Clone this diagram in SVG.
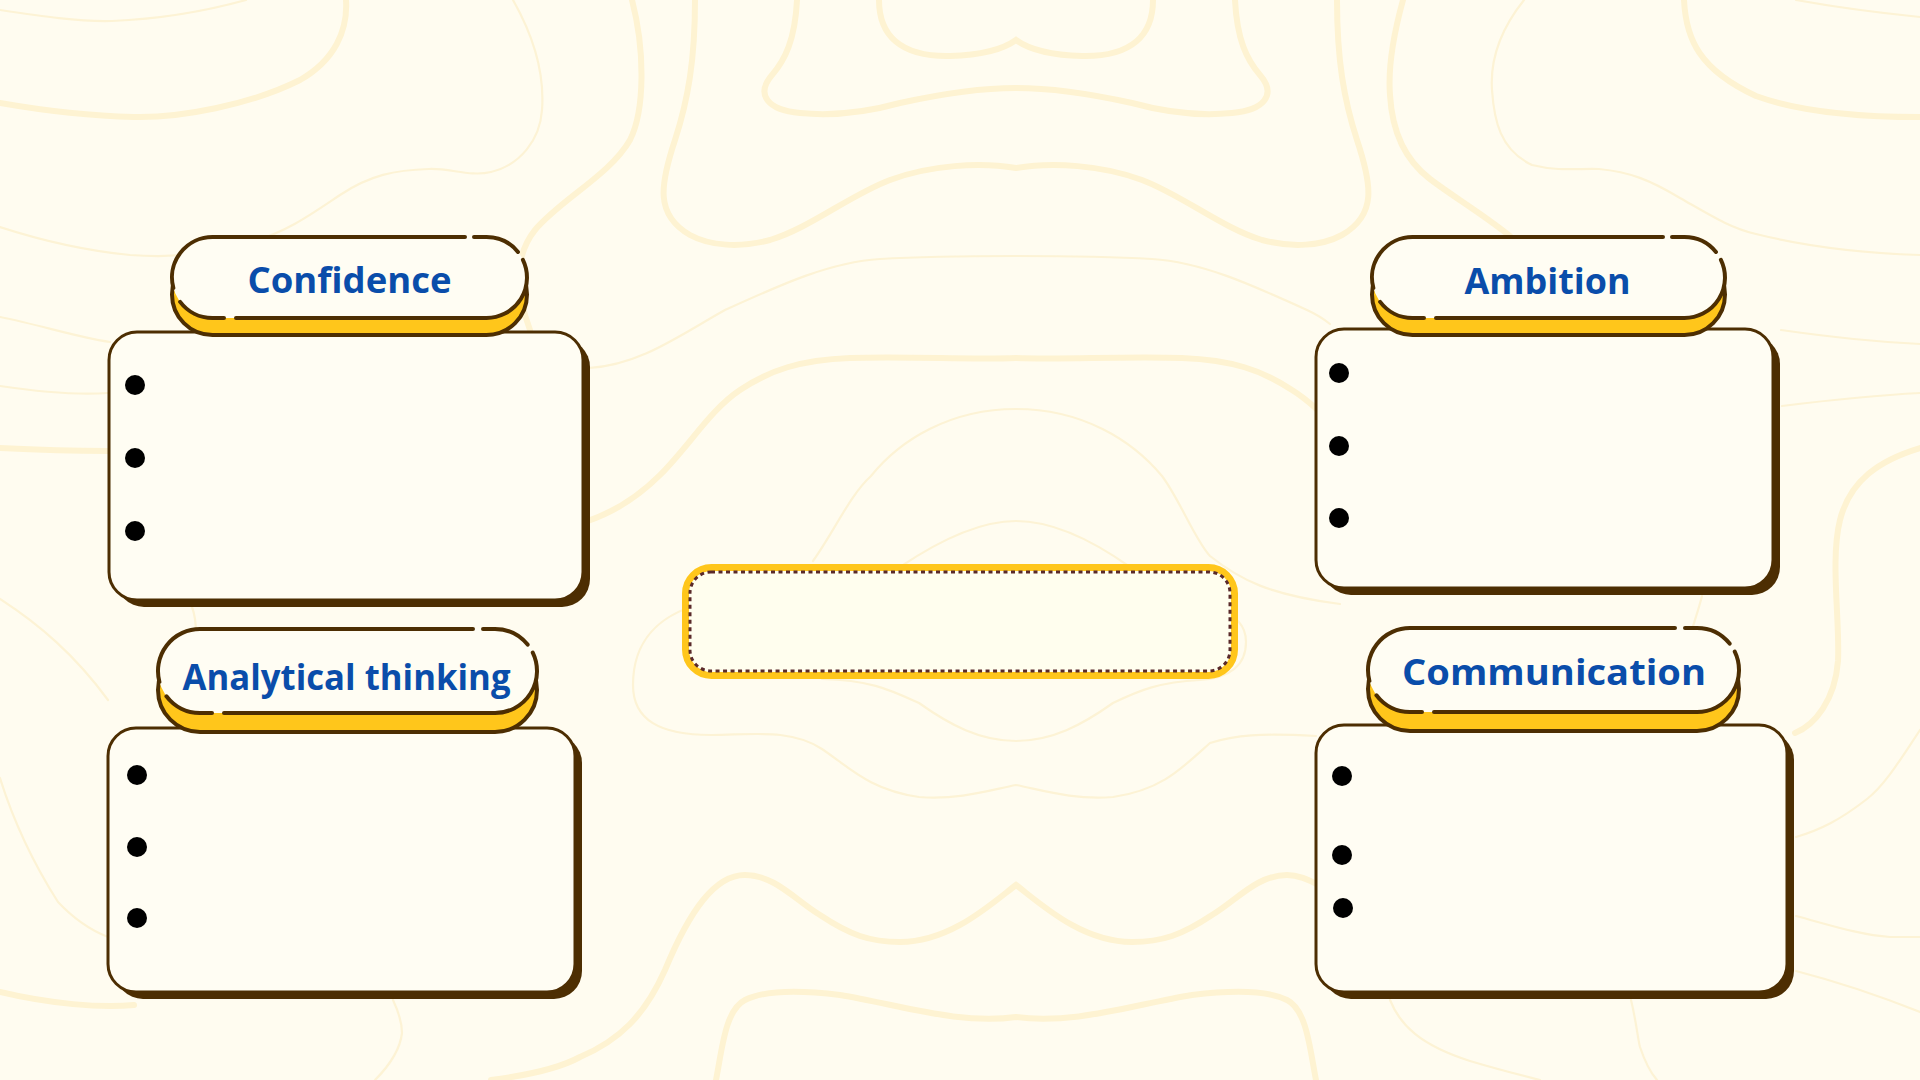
<svg xmlns="http://www.w3.org/2000/svg" width="1920" height="1080" viewBox="0 0 1920 1080">
<style>
.bgk{fill:none;stroke:#fef3d2;stroke-width:6;stroke-linecap:round}
.bgt{fill:none;stroke:#fdf3d5;stroke-width:2.2;stroke-linecap:round}
.shadow{fill:#4d2e02}
.box{fill:#fffdf3;stroke:#4d2e02;stroke-width:3}
.back{fill:#ffc61b;stroke:#4d2e02;stroke-width:4}
.front{fill:#fffdf3}
.edge{fill:none;stroke:#4d2e02;stroke-width:4;stroke-linecap:round}
.title{font-family:"Open Sans","Noto Sans",sans-serif;font-weight:700;font-size:36px;fill:#0a4daa;text-anchor:middle}
.dot{fill:#000}
</style>
<rect x="0" y="0" width="1920" height="1080" fill="#fffcf0"/>
<g id="background">
<path class="bgk" d="M879,0 C879,35 900,57 950,56 C985,55 1005,48 1016,40 C1027,48 1047,55 1082,56 C1132,57 1153,35 1153,0"/>
<path class="bgk" d="M797,0 C795,40 785,60 772,75 C755,95 768,110 800,113 C830,116 860,114 900,103 C950,92 990,88 1016,88 C1042,88 1082,92 1132,103 C1172,114 1202,116 1232,113 C1264,110 1277,95 1260,75 C1247,60 1237,40 1235,0"/>
<path class="bgk" d="M695,0 C695,60 688,100 675,140 C660,185 655,215 690,235 C710,246 740,248 770,240 C810,228 850,195 890,180 C930,165 980,162 1016,168 C1052,162 1102,165 1142,180 C1182,195 1222,228 1262,240 C1292,248 1322,246 1342,235 C1377,215 1372,185 1357,140 C1344,100 1337,60 1337,0"/>
<path class="bgk" d="M346,0 C348,30 335,60 300,80 C250,105 180,118 134,117 C90,116 40,110 0,103"/>
<path class="bgk" d="M1684,0 C1686,40 1700,70 1756,96 C1800,112 1860,117 1920,117"/>
<path class="bgk" d="M632,0 C645,50 645,110 630,140 C610,175 560,200 535,230 C515,255 515,290 530,330"/>
<path class="bgk" d="M1403,0 C1392,40 1388,70 1390,95 C1392,130 1405,160 1430,179 C1455,198 1480,212 1510,236"/>
<path class="bgk" d="M585,522 C615,512 640,495 660,475 C690,445 710,410 740,390 C770,370 800,360 850,358 C910,356 970,360 1016,358 C1062,360 1122,356 1182,358 C1232,360 1262,370 1292,390 C1305,398 1312,405 1320,412"/>
<path class="bgk" d="M491,1080 C530,1075 560,1068 580,1057 C620,1040 645,1015 665,970 C690,910 715,875 745,875 C775,875 795,900 820,915 C850,935 870,942 900,942 C950,942 990,905 1016,885 C1042,905 1082,942 1132,942 C1162,942 1182,935 1212,915 C1237,900 1257,875 1287,875 C1300,875 1310,880 1320,886"/>
<path class="bgk" d="M716,1080 C722,1050 725,1010 745,1000 C765,990 800,990 840,995 C900,1005 960,1025 1016,1017 C1072,1025 1132,1005 1192,995 C1232,990 1267,990 1287,1000 C1307,1010 1310,1050 1316,1080"/>
<path class="bgk" d="M1920,448 C1880,460 1850,480 1840,520 C1830,560 1840,620 1838,661 C1835,700 1815,725 1795,733"/>
<path class="bgk" d="M0,448 C40,450 70,451 108,451"/>
<path class="bgk" d="M0,992 C50,1004 100,1008 134,1005"/>
<path class="bgt" d="M0,10 C40,16 80,22 112,21 C160,19 210,10 246,0"/>
<path class="bgt" d="M1796,0 C1840,8 1880,13 1920,17"/>
<path class="bgt" d="M513,0 C530,30 545,70 542,110 C540,140 520,165 491,172 C470,177 450,168 429,169 C395,170 370,175 340,195 C310,215 290,230 250,243 C210,255 170,258 130,255 C80,250 40,240 0,227"/>
<path class="bgt" d="M1524,0 C1500,30 1490,60 1492,90 C1494,120 1500,150 1532,165 C1560,172 1580,168 1599,169 C1630,172 1650,180 1680,198 C1710,215 1730,228 1756,234 C1800,245 1860,253 1920,255"/>
<path class="bgt" d="M0,317 C40,325 80,338 110,342"/>
<path class="bgt" d="M589,368 C640,365 680,335 725,310 C780,285 830,262 880,259 C930,256 980,256 1016,256 C1052,256 1102,256 1152,259 C1202,262 1252,285 1307,310 C1320,316 1325,320 1330,324"/>
<path class="bgt" d="M1781,330 C1830,337 1880,342 1920,344"/>
<path class="bgt" d="M0,386 C40,392 80,395 108,393"/>
<path class="bgt" d="M1782,406 C1830,400 1880,395 1920,393"/>
<path class="bgt" d="M813,561 C835,530 850,495 871,476 C900,440 950,409 1016,409 C1082,409 1132,440 1162,476 C1180,500 1195,540 1210,556 C1240,580 1270,595 1340,604"/>
<path class="bgt" d="M700,604 C660,615 633,640 633,685 C633,720 660,735 711,735 C750,735 790,728 822,749 C850,768 870,790 919,797 C960,800 990,790 1016,785 C1042,790 1072,800 1113,797 C1162,790 1182,768 1210,743 C1235,735 1260,733 1316,736"/>
<path class="bgt" d="M900,567 C940,540 980,521 1016,521 C1052,521 1092,540 1130,567"/>
<path class="bgt" d="M822,679 C870,680 890,690 919,703 C950,725 980,741 1016,741 C1052,741 1082,725 1113,703 C1140,690 1160,682 1200,680 C1230,678 1246,665 1246,642 C1246,625 1235,615 1220,612"/>
<path class="bgt" d="M0,599 C40,625 75,655 108,700"/>
<path class="bgt" d="M192,607 C195,615 196,625 196,634"/>
<path class="bgt" d="M0,778 C10,810 25,850 58,902 C75,920 90,930 108,937"/>
<path class="bgt" d="M393,1000 C400,1015 402,1025 402,1033 C400,1050 390,1065 375,1080"/>
<path class="bgt" d="M1702,596 C1698,612 1692,628 1689,640"/>
<path class="bgt" d="M1920,730 C1900,760 1885,785 1867,799 C1840,820 1820,830 1796,837"/>
<path class="bgt" d="M1796,916 C1830,925 1860,935 1890,937 L1920,937"/>
<path class="bgt" d="M1796,971 C1850,985 1890,1000 1920,1012"/>
<path class="bgt" d="M1390,1000 C1400,1025 1420,1045 1470,1061 C1500,1070 1520,1075 1540,1080"/>
<path class="bgt" d="M1631,1000 C1636,1020 1638,1040 1640,1047 C1645,1062 1650,1072 1657,1080"/>
</g>
<g id="connectors"></g>
<g id="center-box">
<rect x="685.5" y="567.5" width="549" height="108" rx="26" fill="#fffeee" stroke="#ffc61b" stroke-width="7"/>
<rect x="690" y="572" width="540" height="99" rx="21" fill="none" stroke="#5a2a2a" stroke-width="3" stroke-dasharray="4 3.5"/>
</g>
<g id="node-confidence">
<rect class="shadow" x="116" y="339" width="474" height="268" rx="28"/>
<rect class="box" x="109" y="332" width="474" height="268" rx="28"/>
<circle class="dot" cx="135" cy="385" r="10"/>
<circle class="dot" cx="135" cy="458" r="10"/>
<circle class="dot" cx="135" cy="531" r="10"/>
<g transform="translate(172,237)">
<rect class="back" x="0" y="17" width="355" height="81" rx="40.5"/>
<rect class="front" x="0" y="0" width="355" height="81" rx="40.5"/>
<path class="edge" d="M1.38,50.98 A40.5,40.5 0 0 1 40.5,0 L293,0 M302,0 L314.5,0 A40.5,40.5 0 0 1 345.97,15 M350.91,22.8 A40.5,40.5 0 0 1 314.5,81 L64,81 M52,81 L40.5,81 A40.5,40.5 0 0 1 8.14,64.9"/>
<text class="title" x="177.5" y="56" textLength="204" lengthAdjust="spacingAndGlyphs">Confidence</text>
</g>
</g>
<g id="node-analytical">
<rect class="shadow" x="115" y="735" width="467" height="264" rx="28"/>
<rect class="box" x="108" y="728" width="467" height="264" rx="28"/>
<circle class="dot" cx="137" cy="775" r="10"/>
<circle class="dot" cx="137" cy="847" r="10"/>
<circle class="dot" cx="137" cy="918" r="10"/>
<g transform="translate(158,629)">
<rect class="back" x="0" y="19" width="379" height="84" rx="42"/>
<rect class="front" x="0" y="0" width="379" height="84" rx="42"/>
<path class="edge" d="M1.43,52.9 A42,42 0 0 1 42,0 L315,0 M325,0 L337,0 A42,42 0 0 1 369.63,15.6 M374.76,23.6 A42,42 0 0 1 337,84 L66,84 M54,84 L42,84 A42,42 0 0 1 8.44,67.3"/>
<text class="title" x="188.5" y="61" textLength="328" lengthAdjust="spacingAndGlyphs">Analytical thinking</text>
</g>
</g>
<g id="node-ambition">
<rect class="shadow" x="1323" y="336" width="457" height="259" rx="28"/>
<rect class="box" x="1316" y="329" width="457" height="259" rx="28"/>
<circle class="dot" cx="1339" cy="373" r="10"/>
<circle class="dot" cx="1339" cy="446" r="10"/>
<circle class="dot" cx="1339" cy="518" r="10"/>
<g transform="translate(1372,237)">
<rect class="back" x="0" y="17" width="353" height="81" rx="40.5"/>
<rect class="front" x="0" y="0" width="353" height="81" rx="40.5"/>
<path class="edge" d="M1.38,50.98 A40.5,40.5 0 0 1 40.5,0 L291,0 M300,0 L312.5,0 A40.5,40.5 0 0 1 343.97,15 M348.91,22.8 A40.5,40.5 0 0 1 312.5,81 L64,81 M52,81 L40.5,81 A40.5,40.5 0 0 1 8.14,64.9"/>
<text class="title" x="175.5" y="57" textLength="166" lengthAdjust="spacingAndGlyphs">Ambition</text>
</g>
</g>
<g id="node-communication">
<rect class="shadow" x="1323" y="732" width="471" height="267" rx="28"/>
<rect class="box" x="1316" y="725" width="471" height="267" rx="28"/>
<circle class="dot" cx="1342" cy="776" r="10"/>
<circle class="dot" cx="1342" cy="855" r="10"/>
<circle class="dot" cx="1343" cy="908" r="10"/>
<g transform="translate(1368,628)">
<rect class="back" x="0" y="19" width="371" height="84" rx="42"/>
<rect class="front" x="0" y="0" width="371" height="84" rx="42"/>
<path class="edge" d="M1.43,52.9 A42,42 0 0 1 42,0 L307,0 M317,0 L329,0 A42,42 0 0 1 361.63,15.6 M366.76,23.6 A42,42 0 0 1 329,84 L66,84 M54,84 L42,84 A42,42 0 0 1 8.44,67.3"/>
<text class="title" x="186" y="57" textLength="304" lengthAdjust="spacingAndGlyphs">Communication</text>
</g>
</g>
</svg>
